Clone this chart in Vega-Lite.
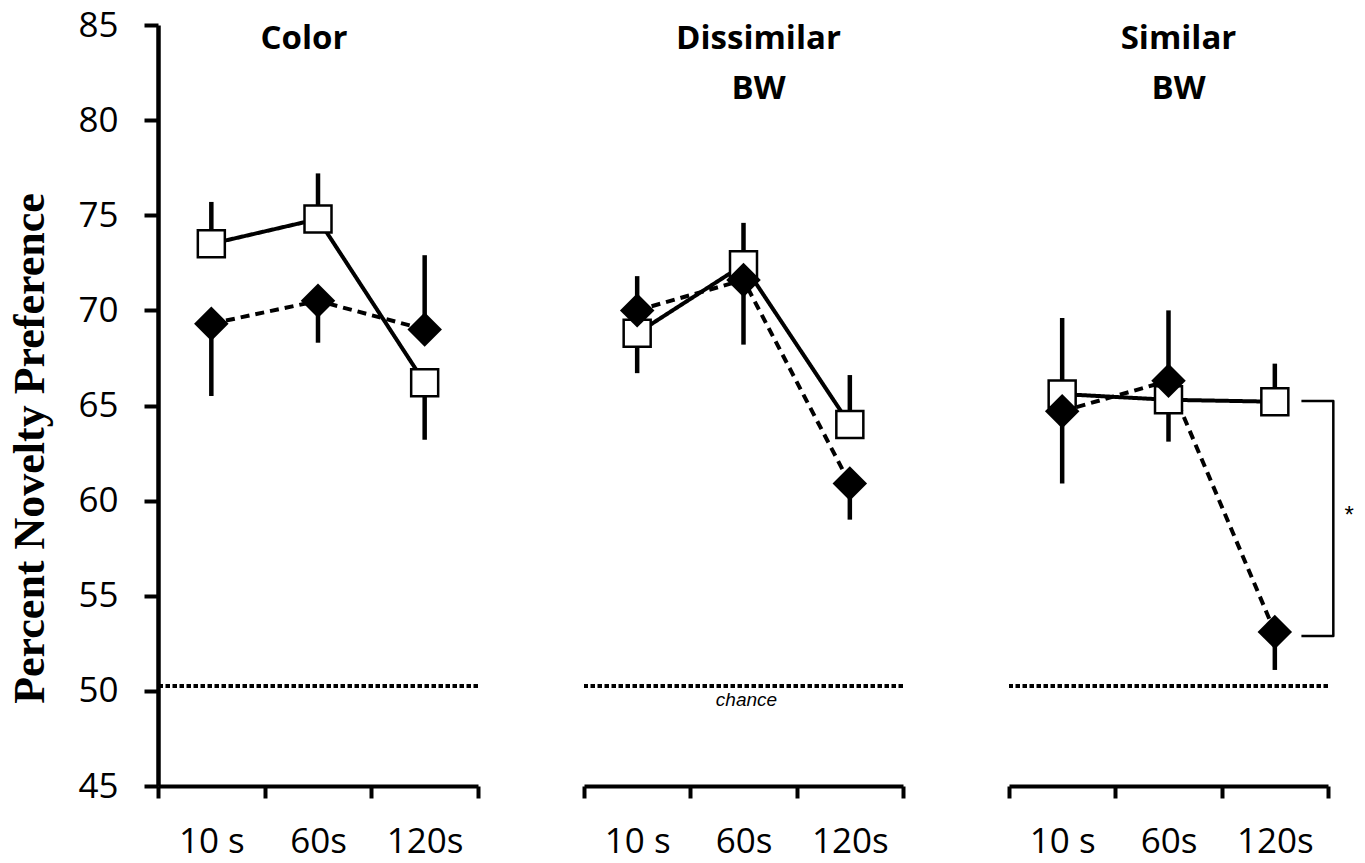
{
  "$schema": "https://vega.github.io/schema/vega-lite/v6.json",
  "padding": {"left": 8, "top": 8, "right": 5, "bottom": 5},
  "background": "white",
  "bounds": "flush",
  "spacing": 106,
  "config": {
    "view": {"stroke": null},
    "font": "Open Sans",
    "axis": {"grid": false},
    "axisX": {"domainWidth": 4, "domainColor": "black", "tickWidth": 4, "tickColor": "black", "tickSize": 12, "tickBand": "extent", "labelAngle": 0, "labelPadding": 26, "labelFontSize": 35, "labelFont": "Open Sans", "labelColor": "black"},
    "axisY": {"domainWidth": 4.5, "domainColor": "black", "tickWidth": 4, "tickColor": "black", "tickSize": 14, "labelPadding": 26, "labelFontSize": 35, "labelFont": "Open Sans", "labelColor": "black", "titleFont": "Liberation Serif", "titleFontSize": 44, "titleFontWeight": "bold", "titleColor": "black", "titlePadding": 25, "titleY": 423}
  },
  "data": {"values": [
    {"panel": "Color", "time": "10 s", "group": "open square", "value": 73.5, "err": 75.7},
    {"panel": "Color", "time": "60s", "group": "open square", "value": 74.8, "err": 77.2},
    {"panel": "Color", "time": "120s", "group": "open square", "value": 66.2, "err": 63.2},
    {"panel": "Color", "time": "10 s", "group": "filled diamond", "value": 69.3, "err": 65.5},
    {"panel": "Color", "time": "60s", "group": "filled diamond", "value": 70.5, "err": 68.3},
    {"panel": "Color", "time": "120s", "group": "filled diamond", "value": 69.0, "err": 72.9},
    {"panel": "Dissimilar BW", "time": "10 s", "group": "open square", "value": 68.8, "err": 66.7},
    {"panel": "Dissimilar BW", "time": "60s", "group": "open square", "value": 72.4, "err": 74.6},
    {"panel": "Dissimilar BW", "time": "120s", "group": "open square", "value": 64.0, "err": 66.6},
    {"panel": "Dissimilar BW", "time": "10 s", "group": "filled diamond", "value": 70.0, "err": 71.8},
    {"panel": "Dissimilar BW", "time": "60s", "group": "filled diamond", "value": 71.6, "err": 68.2},
    {"panel": "Dissimilar BW", "time": "120s", "group": "filled diamond", "value": 60.9, "err": 59.0},
    {"panel": "Similar BW", "time": "10 s", "group": "open square", "value": 65.6, "err": 69.6},
    {"panel": "Similar BW", "time": "60s", "group": "open square", "value": 65.3, "err": 63.1},
    {"panel": "Similar BW", "time": "120s", "group": "open square", "value": 65.2, "err": 67.2},
    {"panel": "Similar BW", "time": "10 s", "group": "filled diamond", "value": 64.7, "err": 60.9},
    {"panel": "Similar BW", "time": "60s", "group": "filled diamond", "value": 66.3, "err": 70.0},
    {"panel": "Similar BW", "time": "120s", "group": "filled diamond", "value": 53.1, "err": 51.1}
  ]},
  "hconcat": [
    {
      "width": 320, "height": 761,
      "layer": [
        {
          "transform": [{"filter": "datum.panel === 'Color'"}],
          "encoding": {
            "x": {"field": "time", "type": "ordinal", "sort": ["10 s", "60s", "120s"], "scale": {"domain": ["10 s", "60s", "120s"], "paddingInner": 0, "paddingOuter": 0}, "title": null},
            "y": {"field": "value", "type": "quantitative", "scale": {"domain": [45, 85], "nice": false, "zero": false}, "title": "Percent Novelty Preference", "axis": {"values": [45, 50, 55, 60, 65, 70, 75, 80, 85]}}
          },
          "layer": [
            {"mark": {"type": "rule", "color": "black", "strokeWidth": 4.5}, "encoding": {"y2": {"field": "err"}}},
            {"mark": {"type": "line", "color": "black", "strokeWidth": 4}, "encoding": {"strokeDash": {"field": "group", "type": "nominal", "scale": {"domain": ["open square", "filled diamond"], "range": [[1, 0], [9, 6]]}, "legend": null}}},
            {"transform": [{"filter": "datum.group === 'open square'"}], "mark": {"type": "point", "shape": "square", "filled": true, "fill": "white", "stroke": "black", "strokeWidth": 2.5, "size": 729, "opacity": 1}},
            {"transform": [{"filter": "datum.group === 'filled diamond'"}], "mark": {"type": "point", "shape": "diamond", "filled": true, "color": "black", "size": 1190, "opacity": 1}}
          ]
        },
        {
          "data": {"values": [{"level": 50.26}]},
          "mark": {"type": "rule", "color": "black", "strokeWidth": 4, "strokeDash": [4.5, 2.5]},
          "encoding": {"y": {"field": "level", "type": "quantitative", "scale": {"domain": [45, 85], "nice": false, "zero": false}, "title": "Percent Novelty Preference"}}
        },
        {
          "data": {"values": [{"panel": "Color"}]},
          "mark": {"type": "text", "text": "Color", "font": "Open Sans", "fontWeight": "bold", "fontSize": 33, "baseline": "top", "align": "center", "lineHeight": 50, "dx": -14, "dy": -2, "color": "black"},
          "encoding": {
            "x": {"datum": "60s", "type": "ordinal", "scale": {"domain": ["10 s", "60s", "120s"], "paddingInner": 0, "paddingOuter": 0}, "title": null},
            "y": {"datum": 85, "type": "quantitative", "scale": {"domain": [45, 85], "nice": false, "zero": false}, "title": "Percent Novelty Preference"}
          }
        }
      ]
    },
    {
      "width": 319, "height": 761,
      "layer": [
        {
          "transform": [{"filter": "datum.panel === 'Dissimilar BW'"}],
          "encoding": {
            "x": {"field": "time", "type": "ordinal", "sort": ["10 s", "60s", "120s"], "scale": {"domain": ["10 s", "60s", "120s"], "paddingInner": 0, "paddingOuter": 0}, "title": null},
            "y": {"field": "value", "type": "quantitative", "scale": {"domain": [45, 85], "nice": false, "zero": false}, "axis": null}
          },
          "layer": [
            {"mark": {"type": "rule", "color": "black", "strokeWidth": 4.5}, "encoding": {"y2": {"field": "err"}}},
            {"mark": {"type": "line", "color": "black", "strokeWidth": 4}, "encoding": {"strokeDash": {"field": "group", "type": "nominal", "scale": {"domain": ["open square", "filled diamond"], "range": [[1, 0], [9, 6]]}, "legend": null}}},
            {"transform": [{"filter": "datum.group === 'open square'"}], "mark": {"type": "point", "shape": "square", "filled": true, "fill": "white", "stroke": "black", "strokeWidth": 2.5, "size": 729, "opacity": 1}},
            {"transform": [{"filter": "datum.group === 'filled diamond'"}], "mark": {"type": "point", "shape": "diamond", "filled": true, "color": "black", "size": 1190, "opacity": 1}}
          ]
        },
        {
          "data": {"values": [{"level": 50.26}]},
          "mark": {"type": "rule", "color": "black", "strokeWidth": 4, "strokeDash": [4.5, 2.5]},
          "encoding": {"y": {"field": "level", "type": "quantitative", "scale": {"domain": [45, 85], "nice": false, "zero": false}, "axis": null}}
        },
        {
          "data": {"values": [{"label": "chance", "level": 49.5}]},
          "mark": {"type": "text", "font": "Liberation Sans", "fontStyle": "italic", "fontSize": 19, "baseline": "middle", "align": "center", "dx": 3, "color": "black"},
          "encoding": {
            "x": {"datum": "60s", "type": "ordinal", "scale": {"domain": ["10 s", "60s", "120s"], "paddingInner": 0, "paddingOuter": 0}, "title": null},
            "y": {"field": "level", "type": "quantitative", "scale": {"domain": [45, 85], "nice": false, "zero": false}, "axis": null},
            "text": {"field": "label"}
          }
        },
        {
          "data": {"values": [{"panel": "Dissimilar BW"}]},
          "mark": {"type": "text", "text": ["Dissimilar", "BW"], "font": "Open Sans", "fontWeight": "bold", "fontSize": 33, "baseline": "top", "align": "center", "lineHeight": 50, "dx": 15, "dy": -2, "color": "black"},
          "encoding": {
            "x": {"datum": "60s", "type": "ordinal", "scale": {"domain": ["10 s", "60s", "120s"], "paddingInner": 0, "paddingOuter": 0}, "title": null},
            "y": {"datum": 85, "type": "quantitative", "scale": {"domain": [45, 85], "nice": false, "zero": false}, "axis": null}
          }
        }
      ]
    },
    {
      "width": 319, "height": 761,
      "resolve": {"scale": {"x": "independent"}},
      "layer": [
        {
          "layer": [
            {
              "transform": [{"filter": "datum.panel === 'Similar BW'"}],
              "encoding": {
                "x": {"field": "time", "type": "ordinal", "sort": ["10 s", "60s", "120s"], "scale": {"domain": ["10 s", "60s", "120s"], "paddingInner": 0, "paddingOuter": 0}, "title": null},
                "y": {"field": "value", "type": "quantitative", "scale": {"domain": [45, 85], "nice": false, "zero": false}, "axis": null}
              },
              "layer": [
                {"mark": {"type": "rule", "color": "black", "strokeWidth": 4.5}, "encoding": {"y2": {"field": "err"}}},
                {"mark": {"type": "line", "color": "black", "strokeWidth": 4}, "encoding": {"strokeDash": {"field": "group", "type": "nominal", "scale": {"domain": ["open square", "filled diamond"], "range": [[1, 0], [9, 6]]}, "legend": null}}},
                {"transform": [{"filter": "datum.group === 'open square'"}], "mark": {"type": "point", "shape": "square", "filled": true, "fill": "white", "stroke": "black", "strokeWidth": 2.5, "size": 729, "opacity": 1}},
                {"transform": [{"filter": "datum.group === 'filled diamond'"}], "mark": {"type": "point", "shape": "diamond", "filled": true, "color": "black", "size": 1190, "opacity": 1}}
              ]
            },
            {
              "data": {"values": [{"level": 50.26}]},
              "mark": {"type": "rule", "color": "black", "strokeWidth": 4, "strokeDash": [4.5, 2.5]},
              "encoding": {"y": {"field": "level", "type": "quantitative", "scale": {"domain": [45, 85], "nice": false, "zero": false}, "axis": null}}
            },
            {
              "data": {"values": [{"panel": "Similar BW"}]},
              "mark": {"type": "text", "text": ["Similar", "BW"], "font": "Open Sans", "fontWeight": "bold", "fontSize": 33, "baseline": "top", "align": "center", "lineHeight": 50, "dx": 10, "dy": -2, "color": "black"},
              "encoding": {
                "x": {"datum": "60s", "type": "ordinal", "scale": {"domain": ["10 s", "60s", "120s"], "paddingInner": 0, "paddingOuter": 0}, "title": null},
                "y": {"datum": 85, "type": "quantitative", "scale": {"domain": [45, 85], "nice": false, "zero": false}, "axis": null}
              }
            }
          ]
        },
        {
          "layer": [
            {
              "data": {"values": [
                {"bx": 2.75, "by": 65.24, "step": 1},
                {"bx": 3.05, "by": 65.24, "step": 2},
                {"bx": 3.05, "by": 52.88, "step": 3},
                {"bx": 2.75, "by": 52.88, "step": 4}
              ]},
              "mark": {"type": "line", "color": "black", "strokeWidth": 2.5, "strokeJoin": "round"},
              "encoding": {
                "x": {"field": "bx", "type": "quantitative", "scale": {"domain": [0, 3], "nice": false, "zero": false}, "axis": null},
                "y": {"field": "by", "type": "quantitative", "scale": {"domain": [45, 85], "nice": false, "zero": false}, "axis": null},
                "order": {"field": "step"}
              }
            },
            {
              "data": {"values": [{"sx": 3.2, "sy": 59.2, "mark": "*"}]},
              "mark": {"type": "text", "font": "Liberation Sans", "fontSize": 24, "baseline": "middle", "align": "center", "color": "black"},
              "encoding": {
                "x": {"field": "sx", "type": "quantitative", "scale": {"domain": [0, 3], "nice": false, "zero": false}, "axis": null},
                "y": {"field": "sy", "type": "quantitative", "scale": {"domain": [45, 85], "nice": false, "zero": false}, "axis": null},
                "text": {"field": "mark"}
              }
            }
          ]
        }
      ]
    }
  ]
}
